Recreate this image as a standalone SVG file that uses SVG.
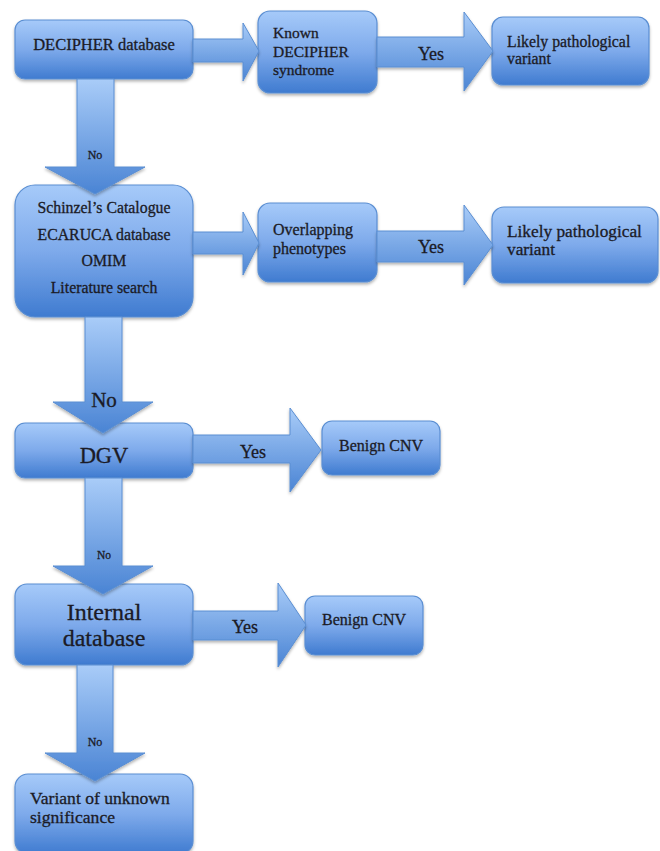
<svg xmlns="http://www.w3.org/2000/svg" width="660" height="851" viewBox="0 0 660 851">
<defs>
<linearGradient id="gBox" x1="0" y1="0" x2="0" y2="1">
<stop offset="0" stop-color="#a6caf9"/>
<stop offset="0.5" stop-color="#7eaaeb"/>
<stop offset="1" stop-color="#3f7bd0"/>
</linearGradient>
<linearGradient id="gArr" x1="0" y1="0" x2="0" y2="1">
<stop offset="0" stop-color="#a9ccf8"/>
<stop offset="1" stop-color="#4a84d4"/>
</linearGradient>
<filter id="sh" x="-10%" y="-10%" width="120%" height="130%">
<feDropShadow dx="0" dy="2" stdDeviation="1.5" flood-color="#000" flood-opacity="0.3"/>
</filter>
</defs>
<style>
.box{fill:url(#gBox);stroke:#5a8ed2;stroke-width:1.2;filter:url(#sh)}
.arr{fill:url(#gArr);stroke:#5a8ed2;stroke-width:1;filter:url(#sh)}
text{font-family:"Liberation Serif","Times New Roman",serif;fill:#1b1b26;stroke:#1b1b26;stroke-width:0.3}
.c{text-anchor:middle}
</style>
<rect width="660" height="851" fill="#ffffff"/>
<g id="n-decipher"><rect class="box" x="15" y="20" width="178" height="59" rx="10"/><text class="c" x="104" y="50" font-size="16.5">DECIPHER database</text></g>
<g id="n-known"><rect class="box" x="258" y="11" width="119" height="82" rx="12"/><text x="273" y="38" font-size="15.5">Known</text><text x="273" y="57" font-size="15.5">DECIPHER</text><text x="273" y="75" font-size="15.5">syndrome</text></g>
<g id="n-likely1"><rect class="box" x="492" y="17" width="157" height="68" rx="11"/><text x="507" y="47" font-size="15.8">Likely pathological</text><text x="507" y="64" font-size="15.8">variant</text></g>
<g id="n-catalogue"><rect class="box" x="15" y="185" width="178" height="132" rx="20"/><text class="c" x="104" y="213" font-size="15.8">Schinzel’s Catalogue</text><text class="c" x="104" y="240" font-size="15.8">ECARUCA database</text><text class="c" x="104" y="266" font-size="15.8">OMIM</text><text class="c" x="104" y="293" font-size="15.8">Literature search</text></g>
<g id="n-overlap"><rect class="box" x="258" y="203" width="119" height="79" rx="12"/><text x="273" y="235" font-size="16">Overlapping</text><text x="273" y="254" font-size="16">phenotypes</text></g>
<g id="n-likely2"><rect class="box" x="492" y="207" width="166" height="76" rx="12"/><text x="507" y="237" font-size="17.3">Likely pathological</text><text x="507" y="255" font-size="17.3">variant</text></g>
<g id="n-dgv"><rect class="box" x="15" y="423" width="178" height="55" rx="10"/><text class="c" x="104" y="463" font-size="22.5">DGV</text></g>
<g id="n-benign1"><rect class="box" x="322" y="421" width="118" height="54" rx="10"/><text class="c" x="381" y="451" font-size="16">Benign CNV</text></g>
<g id="n-internal"><rect class="box" x="15" y="584" width="178" height="81" rx="12"/><text class="c" x="104" y="620" font-size="24">Internal</text><text class="c" x="104" y="646" font-size="24">database</text></g>
<g id="n-benign2"><rect class="box" x="305" y="596" width="118" height="59" rx="10"/><text class="c" x="364" y="625" font-size="16">Benign CNV</text></g>
<g id="n-vus"><rect class="box" x="15" y="774" width="178" height="80" rx="13"/><text x="30" y="804" font-size="17.6">Variant of unknown</text><text x="30" y="823" font-size="17.6">significance</text></g>
<g id="connectors">
<polygon class="arr" points="193,39 243,39 243,23 259,51 243,81 243,62 193,62"/>
<polygon class="arr" points="377,37 464,37 464,12 493,51 464,91 464,67 377,67"/>
<text class="c" x="431" y="60" font-size="18">Yes</text>
<polygon class="arr" points="77,79 114,79 114,167 145,167 95,194 45,167 77,167"/>
<text class="c" x="95" y="159" font-size="12">No</text>
<polygon class="arr" points="193,232 243,232 243,212 259,243 243,275 243,254 193,254"/>
<polygon class="arr" points="377,231 464,231 464,205 493,245 464,285 464,262 377,262"/>
<text class="c" x="431" y="253" font-size="18">Yes</text>
<polygon class="arr" points="85,317 122,317 122,402 153,402 103,433 53,402 85,402"/>
<text class="c" x="104" y="407" font-size="21">No</text>
<polygon class="arr" points="193,435 290,435 290,408 321,450 290,492 290,463 193,463"/>
<text class="c" x="253" y="458" font-size="18">Yes</text>
<polygon class="arr" points="85,478 122,478 122,566 153,566 103,594 53,566 85,566"/>
<text class="c" x="104" y="559" font-size="11.5">No</text>
<polygon class="arr" points="193,611 278,611 278,583 306,625 278,667 278,640 193,640"/>
<text class="c" x="245" y="633" font-size="18">Yes</text>
<polygon class="arr" points="77,665 113,665 113,753 145,753 95,781 45,753 77,753"/>
<text class="c" x="95" y="746" font-size="12">No</text>
</g>
</svg>
